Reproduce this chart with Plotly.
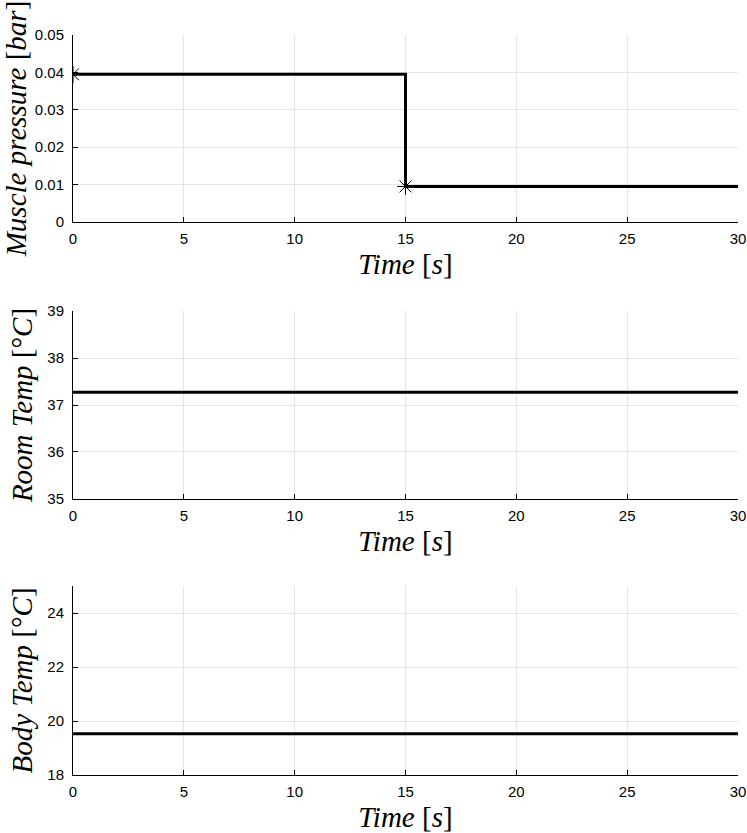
import plotly.graph_objects as go
from plotly.subplots import make_subplots

# data
time = [0, 15, 15, 30]
muscle_pressure = [0.0395, 0.0395, 0.0095, 0.0095]
marker_time = [0, 15]
marker_pressure = [0.0395, 0.0095]

temp_time = [0, 30]
room_temp = [37.27, 37.27]
body_temp = [19.53, 19.53]

x_ticks = [0, 5, 10, 15, 20, 25, 30]
pressure_ticks = [0, 0.01, 0.02, 0.03, 0.04, 0.05]
pressure_labels = ["0", "0.01", "0.02", "0.03", "0.04", "0.05"]
room_ticks = [35, 36, 37, 38, 39]
body_ticks = [18, 20, 22, 24]

fig = make_subplots(rows=3, cols=1)

fig.add_trace(go.Scatter(x=time, y=muscle_pressure, mode="lines",
                         line=dict(color="black", width=3)), row=1, col=1)
fig.add_trace(go.Scatter(x=marker_time, y=marker_pressure, mode="markers",
                         marker=dict(symbol="asterisk-open", size=14, color="black",
                                     line=dict(color="black", width=1))),
              row=1, col=1)
fig.add_trace(go.Scatter(x=temp_time, y=room_temp, mode="lines",
                         line=dict(color="black", width=3)), row=2, col=1)
fig.add_trace(go.Scatter(x=temp_time, y=body_temp, mode="lines",
                         line=dict(color="black", width=3)), row=3, col=1)

tick_font = dict(family="Liberation Sans, Arial", size=15, color="black")
title_font = dict(family="Liberation Serif, DejaVu Serif", size=29, color="black")
grid = "rgb(228,228,228)"

common_x = dict(range=[0, 30], tickvals=x_ticks, showgrid=True, gridcolor=grid,
                showline=True, linecolor="black", linewidth=1, ticks="inside",
                ticklen=5, tickcolor="black", tickfont=tick_font, zeroline=False,
                automargin=False, ticklabelstandoff=3,
                title=dict(text="<i>Time</i> [<i>s</i>]", font=title_font, standoff=7))
common_y = dict(showgrid=True, gridcolor=grid, showline=True, linecolor="black",
                linewidth=1, ticks="inside", ticklen=5, tickcolor="black",
                tickfont=tick_font, zeroline=False, automargin=False,
                ticklabelstandoff=5)

fig.update_xaxes(**common_x)
fig.update_yaxes(**common_y)

fig.update_layout(
    width=747, height=833,
    margin=dict(l=73, r=9, t=35, b=58),
    paper_bgcolor="white", plot_bgcolor="white",
    showlegend=False,
    yaxis=dict(domain=[0.7473, 1], range=[0, 0.05], tickvals=pressure_ticks,
               ticktext=pressure_labels,
               title=dict(text="<i>Muscle pressure</i> [<i>bar</i>]",
                          font=title_font, standoff=5)),
    yaxis2=dict(domain=[0.373, 0.627], range=[35, 39], tickvals=room_ticks,
                title=dict(text="<i>Room Temp</i> [°<i>C</i>]",
                           font=title_font, standoff=6)),
    yaxis3=dict(domain=[0, 0.2554], range=[18, 25], tickvals=body_ticks,
                title=dict(text="<i>Body Temp</i> [°<i>C</i>]",
                           font=title_font, standoff=6)),
)

# drop the default 8px body margin so the figure fills the window
fig.write_html("out.html", config={"displayModeBar": False},
               post_script="document.body.style.margin='0';document.body.style.overflow='hidden';")
